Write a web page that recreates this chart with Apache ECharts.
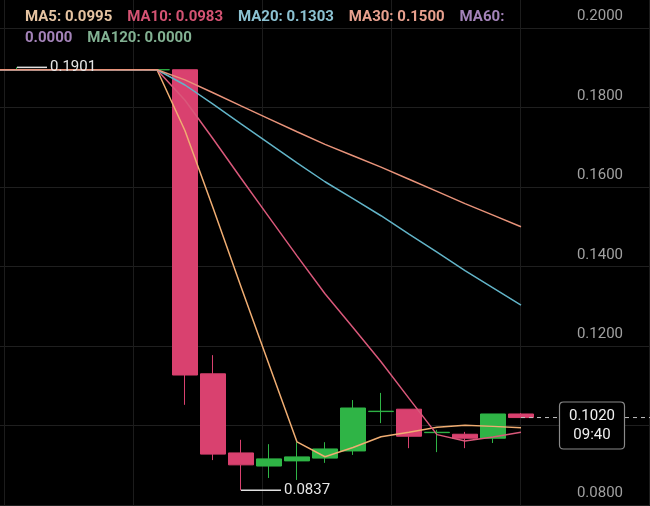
<!DOCTYPE html>
<html>
<head>
<meta charset="utf-8">
<script src="https://cdn.jsdelivr.net/npm/echarts@6/dist/echarts.min.js"></script>
<style>
html,body{margin:0;padding:0;background:#000;}
#chart{width:650px;height:506px;}
</style>
</head>
<body>
<div id="chart"></div>
<script>
// ---- data ----
// closes of earlier (off-screen) candles, used only for the moving averages
const historyCloses = [
  0.1895,0.1895,0.1895,0.1895,0.1895,0.1895,0.1895,0.1895,0.1895,0.1895,
  0.1895,0.1895,0.1895,0.1895,0.1895,0.1895,0.1895,0.1895,0.1895,0.1895,
  0.1895,0.1895,0.1895,0.1895,0.1895,0.1895,0.1895,0.1895,0.1895
];
const categories = ['1','2','3','4','5','6','7','8','9','10','11','12','13','14','15','16','17','18','19','20','21','22','23','24','25'];
const openV  = [0.1895,0.1895,0.1895,0.1895,0.1895,0.1895,0.1895,0.1895,0.1130,0.0931,0.0898,0.0911,0.0918,0.0936,0.1035,0.1041,0.0982,0.0978,0.0968,0.1029];
const closeV = [0.1895,0.1895,0.1895,0.1895,0.1895,0.1895,0.1895,0.1127,0.0928,0.0901,0.0916,0.0921,0.0941,0.1044,0.1036,0.0973,0.0983,0.0968,0.1029,0.1020];
const lowV   = [0.1895,0.1895,0.1895,0.1895,0.1895,0.1895,0.1895,0.1052,0.0913,0.0837,0.0868,0.0863,0.0906,0.0926,0.1006,0.0943,0.0933,0.0943,0.0956,0.1020];
const highV  = [0.1895,0.1901,0.1895,0.1895,0.1895,0.1895,0.1895,0.1895,0.1177,0.0964,0.0953,0.0958,0.0958,0.1064,0.1082,0.1041,0.0989,0.0984,0.1029,0.1031];
const maPeriods = [5, 10, 20, 30, 60, 120];
const maNames = ['MA5','MA10','MA20','MA30','MA60','MA120'];
const yTicks = {min: 0.08, max: 0.20, interval: 0.02};
const currentTimeLabel = '09:40';

// ---- derived ----
const allCloses = historyCloses.concat(closeV);
function maSeries(n){
  const out = [];
  for (let i = 0; i < closeV.length; i++){
    const idx = historyCloses.length + i;
    if (idx + 1 < n) continue;
    let s = 0;
    for (let k = idx - n + 1; k <= idx; k++) s += allCloses[k];
    out.push([i, s / n]);
  }
  return out;
}
const maData = maPeriods.map(maSeries);
const maLast = maData.map(d => d.length && d[d.length-1][0] === closeV.length - 1 ? d[d.length-1][1] : 0);
const candleData = closeV.map((c,i) => [i, openV[i], c, lowV[i], highV[i]]);
let hiIdx = 0, loIdx = 0;
highV.forEach((v,i)=>{ if (v > highV[hiIdx]) hiIdx = i; });
lowV.forEach((v,i)=>{ if (v < lowV[loIdx]) loIdx = i; });
const lastIdx = closeV.length - 1;
const lastClose = closeV[lastIdx];

const maColors = ['#f0ad72','#d9587a','#62b4c8','#e8937a','#a781b8','#7fae8c'];
const maTextColors = ['#e6c4a2','#d45373','#8cc2d2','#e8a08e','#a483b9','#82b192'];

// visible window of the category slots (in slot units; one slot = 28px)
const slotPx = 28, leftCutPx = 11, chartW = 650;
const xMin = leftCutPx / slotPx, xMax = (leftCutPx + chartW) / slotPx;

const FONT = 'Roboto';
const fmt = v => v.toFixed(4);
const titleText =
  `{a|${maNames[0]}: ${fmt(maLast[0])}}    {b|${maNames[1]}: ${fmt(maLast[1])}}    {c|${maNames[2]}: ${fmt(maLast[2])}}    {d|${maNames[3]}: ${fmt(maLast[3])}}    {e|${maNames[4]}:}\n{e|${fmt(maLast[4])}}    {f|${maNames[5]}: ${fmt(maLast[5])}}`;
const rs = c => ({color: c, fontSize: 15, fontFamily: FONT, lineHeight: 21});
const boxPath = 'path://M4,0 L61,0 Q65,0 65,4 L65,43 Q65,47 61,47 L4,47 Q0,47 0,43 L0,4 Q0,0 4,0 Z';

const chart = echarts.init(document.getElementById('chart'), null, {renderer: 'canvas'});
const option = {
  backgroundColor: '#000',
  animation: false,
  title: {
    left: 25, top: 7, padding: 0,
    text: titleText,
    textStyle: {
      fontSize: 15, fontFamily: FONT, lineHeight: 21,
      rich: {a: rs(maTextColors[0]), b: rs(maTextColors[1]), c: rs(maTextColors[2]), d: rs(maTextColors[3]), e: rs(maTextColors[4]), f: rs(maTextColors[5])}
    }
  },
  grid: [
    {left: 0, right: 0, top: 28, bottom: 1},
    {left: 4, width: 645, top: 0, bottom: 0}
  ],
  xAxis: [
    {type: 'value', gridIndex: 0, min: xMin, max: xMax,
     axisLine: {show: false}, axisTick: {show: false}, axisLabel: {show: false}, splitLine: {show: false}},
    {type: 'value', gridIndex: 1, min: 0, max: 645, interval: 129,
     axisLine: {show: false}, axisTick: {show: false}, axisLabel: {show: false},
     splitLine: {show: true, lineStyle: {color: '#1c1c1c', width: 1}}}
  ],
  yAxis: [
    {type: 'value', gridIndex: 0, position: 'right', min: yTicks.min, max: yTicks.max, interval: yTicks.interval,
     axisLine: {show: false}, axisTick: {show: false},
     axisLabel: {inside: true, margin: 27, color: '#a0a0a0', fontSize: 15, fontFamily: FONT,
       verticalAlign: 'bottom', padding: [0, 0, 4, 0], formatter: v => v.toFixed(4)},
     splitLine: {show: true, lineStyle: {color: '#1f1f1f', width: 1}}},
    {type: 'value', gridIndex: 1, show: false, min: 0, max: 1}
  ],
  series: [
    {
      type: 'candlestick', xAxisIndex: 0, yAxisIndex: 0, z: 2,
      data: candleData, encode: {x: 0, y: [1, 2, 3, 4]}, barWidth: 25,
      itemStyle: {color: '#2fb446', color0: '#d9416f', borderColor: '#2fb446', borderColor0: '#d9416f', borderWidth: 1},
      markPoint: {
        z: 10, animation: false,
        data: [
          {coord: [hiIdx, highV[hiIdx]], value: highV[hiIdx], symbol: 'rect', symbolSize: [30, 1.5], symbolOffset: [15, 0],
           itemStyle: {color: '#e0e0e0'},
           label: {show: true, position: 'right', distance: 3, formatter: fmt(highV[hiIdx]), color: '#e6e6e6', fontSize: 15, fontFamily: FONT}},
          {coord: [loIdx, lowV[loIdx]], value: lowV[loIdx], symbol: 'rect', symbolSize: [40, 1.5], symbolOffset: [20, 0],
           itemStyle: {color: '#e0e0e0'},
           label: {show: true, position: 'right', distance: 3, formatter: fmt(lowV[loIdx]), color: '#e6e6e6', fontSize: 15, fontFamily: FONT}},
          {coord: [lastIdx + 3, lastClose], value: lastClose, symbol: boxPath, symbolKeepAspect: false, symbolSize: [65, 47], symbolOffset: [-13, 8],
           itemStyle: {color: '#000', borderColor: '#8a8a8a', borderWidth: 1},
           label: {show: true, position: 'inside', formatter: fmt(lastClose) + '\n' + currentTimeLabel,
             color: '#f0f0f0', fontSize: 15, lineHeight: 19, fontFamily: FONT, align: 'center'}}
        ]
      }
    },
    ...[0,1,2,3,4,5].map(k => ({
      type: 'line', name: maNames[k], xAxisIndex: 0, yAxisIndex: 0, z: 3,
      data: maData[k], showSymbol: false, symbol: 'none', smooth: false,
      lineStyle: {color: maColors[k], width: 1.5}
    })),
    {
      type: 'line', name: 'last', xAxisIndex: 0, yAxisIndex: 0, z: 4, silent: true,
      data: [[lastIdx, lastClose], [lastIdx + 0.5, lastClose], [xMax, lastClose]], showSymbol: false, symbol: 'none',
      lineStyle: {color: '#c0c0c0', type: [4, 4], width: 1}
    }
  ]
};
chart.setOption(option);
</script>
</body>
</html>
